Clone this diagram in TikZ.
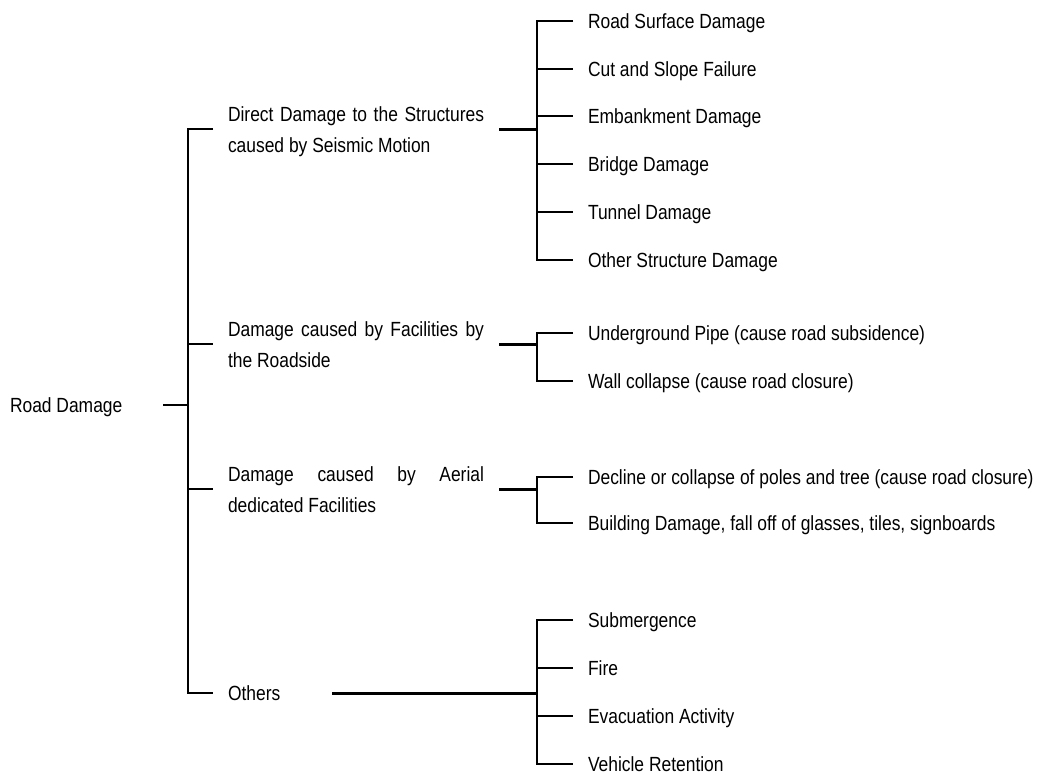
\documentclass[tikz,border=0pt]{standalone}
\usepackage{fontspec}
\setmainfont{Liberation Sans}[FakeStretch=0.85]
\begin{document}
\begin{tikzpicture}[x=1pt,y=-1pt,
  every node/.style={inner sep=0pt,outer sep=0pt,font=\fontsize{20.5}{31}\selectfont},
  ln/.style={line width=2pt},
  conn/.style={line width=3pt},
  leaf/.style={anchor=west,text height=14.7pt,text depth=0pt},
  midlbl/.style={anchor=north west,align=left}]
\useasboundingbox (0,0) rectangle (1044,774);
\fill[white] (0,0) rectangle (1044,774);

% root
\node[leaf] (root) at (10,405) {Road Damage};
\coordinate (rs) at (163,405);
\coordinate (rj) at (188,405);
\draw[ln] (rs) -- (rj);

% main bracket
\coordinate (m1) at (188,129);
\coordinate (m2) at (188,344);
\coordinate (m3) at (188,489);
\coordinate (m4) at (188,693);
\coordinate (s1) at (213,129);
\coordinate (s2) at (213,344);
\coordinate (s3) at (213,489);
\coordinate (s4) at (213,693);
\draw[ln] (s1) -| (m4) -- (s4);
\draw[ln] (m2) -- (s2);
\draw[ln] (m3) -- (s3);

% middle labels
\node[midlbl] (lD) at (228,107) {\makebox[256pt][s]{Direct Damage to the Structures}\\caused by Seismic Motion};
\node[midlbl] (lF) at (228,322) {\makebox[256pt][s]{Damage caused by Facilities by}\\the Roadside};
\node[midlbl] (lA) at (228,467) {\makebox[256pt][s]{Damage caused by Aerial}\\dedicated Facilities};
\node[leaf] (lO) at (228,693) {Others};

% junctions
\coordinate (jD) at (537,129);
\coordinate (jF) at (537,344);
\coordinate (jA) at (537,489);
\coordinate (jO) at (537,693);
\coordinate (cD) at (499,129);
\coordinate (cF) at (499,344);
\coordinate (cA) at (499,489);
\coordinate (cO) at (332,693);
\draw[conn] (cD) -- (jD);
\draw[conn] (cF) -- (jF);
\draw[conn] (cA) -- (jA);
\draw[conn] (cO) -- (jO);

% leaves: direct damage
\node[leaf] (d1) at (588,21)  {Road Surface Damage};
\node[leaf] (d2) at (588,69)  {Cut and Slope Failure};
\node[leaf] (d3) at (588,116) {Embankment Damage};
\node[leaf] (d4) at (588,164) {Bridge Damage};
\node[leaf] (d5) at (588,212) {Tunnel Damage};
\node[leaf] (d6) at (588,260) {Other Structure Damage};
\draw[ln] ([xshift=-15pt]d1.west) -| (jD |- d6.west) -- ([xshift=-15pt]d6.west);
\foreach \n in {d2,d3,d4,d5} \draw[ln] (jD |- \n.west) -- ([xshift=-15pt]\n.west);

% leaves: facilities
\node[leaf] (f1) at (588,333) {Underground Pipe (cause road subsidence)};
\node[leaf] (f2) at (588,381) {Wall collapse (cause road closure)};
\draw[ln] ([xshift=-15pt]f1.west) -| (jF |- f2.west) -- ([xshift=-15pt]f2.west);

% leaves: aerial
\node[leaf] (a1) at (588,477) {Decline or collapse of poles and tree (cause road closure)};
\node[leaf] (a2) at (588,523) {Building Damage, fall off of glasses, tiles, signboards};
\draw[ln] ([xshift=-15pt]a1.west) -| (jA |- a2.west) -- ([xshift=-15pt]a2.west);

% leaves: others
\node[leaf] (o1) at (588,620) {Submergence};
\node[leaf] (o2) at (588,668) {Fire};
\node[leaf] (o3) at (588,716) {Evacuation Activity};
\node[leaf] (o4) at (588,764) {Vehicle Retention};
\draw[ln] ([xshift=-15pt]o1.west) -| (jO |- o4.west) -- ([xshift=-15pt]o4.west);
\foreach \n in {o2,o3} \draw[ln] (jO |- \n.west) -- ([xshift=-15pt]\n.west);
\end{tikzpicture}
\end{document}
